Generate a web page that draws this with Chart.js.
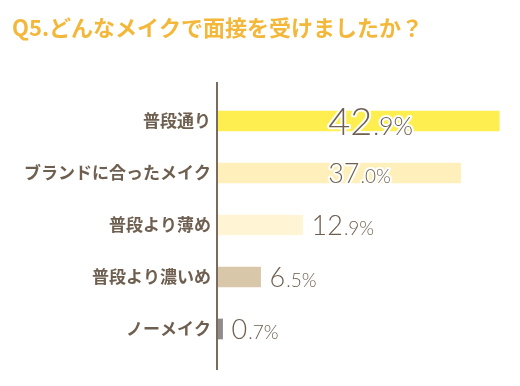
<!DOCTYPE html>
<html>
<head>
<meta charset="utf-8">
<script src="https://cdn.jsdelivr.net/npm/chart.js@4/dist/chart.umd.min.js"></script>
<style>
  html, body { margin: 0; padding: 0; background: #ffffff; }
  #wrap { width: 520px; height: 386px; position: relative; }
</style>
</head>
<body>
<div id="wrap"><canvas id="c" width="520" height="386"></canvas></div>
<script>
const titleText = 'Q5.どんなメイクで面接を受けましたか？';
const categories = ['普段通り', 'ブランドに合ったメイク', '普段より薄め', '普段より濃いめ', 'ノーメイク'];
const values = [42.9, 37.0, 12.9, 6.5, 0.7];
const barColors = ['#ffee50', '#fff0bb', '#fff5d5', '#d9c7aa', '#8e8c8c'];

const BROWN = '#6e5f50';

const valueLabels = {
  id: 'valueLabels',
  beforeDatasetsDraw(chart) {
    const { ctx, chartArea } = chart;
    ctx.save();
    ctx.strokeStyle = '#7a6b5c';
    ctx.lineWidth = 2;
    ctx.beginPath();
    ctx.moveTo(chartArea.left - 1, chartArea.top - 13);
    ctx.lineTo(chartArea.left - 1, chartArea.bottom + 15);
    ctx.stroke();
    ctx.restore();
  },
  afterDatasetsDraw(chart) {
    const { ctx } = chart;
    const xs = chart.scales.x;
    const meta = chart.getDatasetMeta(0);
    const data = chart.data.datasets[0].data;
    meta.data.forEach((bar, i) => {
      const v = data[i];
      const parts = v.toFixed(1).split('.');
      const big = parts[0];
      const small = '.' + parts[1] + '%';
      const bigSize = v > 40 ? 38 : 27;
      const smallSize = v > 40 ? 25 : 19;
      let x = v >= 30 ? xs.getPixelForValue(16.8) : bar.x + 9;
      const y = bar.y + bigSize * 0.36;
      ctx.save();
      ctx.textBaseline = 'alphabetic';
      ctx.textAlign = 'left';
      ctx.lineJoin = 'round';
      ctx.strokeStyle = '#ffffff';
      ctx.lineWidth = 4;
      ctx.fillStyle = BROWN;
      ctx.font = '300 ' + bigSize + 'px Lato, "Open Sans", sans-serif';
      ctx.strokeText(big, x, y);
      ctx.fillText(big, x, y);
      x += ctx.measureText(big).width + 1;
      ctx.font = '300 ' + smallSize + 'px Lato, "Open Sans", sans-serif';
      ctx.strokeText(small, x, y);
      ctx.fillText(small, x, y);
      ctx.restore();
    });
  }
};

new Chart(document.getElementById('c'), {
  type: 'bar',
  data: {
    labels: categories,
    datasets: [{
      data: values,
      backgroundColor: barColors,
      borderWidth: 0,
      barThickness: 20
    }]
  },
  options: {
    indexAxis: 'y',
    responsive: false,
    animation: false,
    devicePixelRatio: 1,
    layout: { padding: { left: 12, right: 7, top: 4, bottom: 31 } },
    plugins: {
      legend: { display: false },
      tooltip: { enabled: false },
      title: {
        display: true,
        text: titleText,
        align: 'start',
        color: '#f3b83a',
        font: { family: '"Noto Sans CJK JP", sans-serif', size: 22, weight: 'bold', lineHeight: 1.2 },
        padding: { top: 10, bottom: 54.6 }
      }
    },
    scales: {
      x: {
        display: false,
        min: 0,
        max: 45
      },
      y: {
        afterFit(scale) { scale.width = 206; },
        grid: { display: false, drawTicks: false },
        border: { display: false },
        ticks: {
          padding: 7,
          color: BROWN,
          font: { family: '"Noto Sans CJK JP", sans-serif', size: 17, weight: 'bold' }
        }
      }
    }
  },
  plugins: [valueLabels]
});
</script>
</body>
</html>
